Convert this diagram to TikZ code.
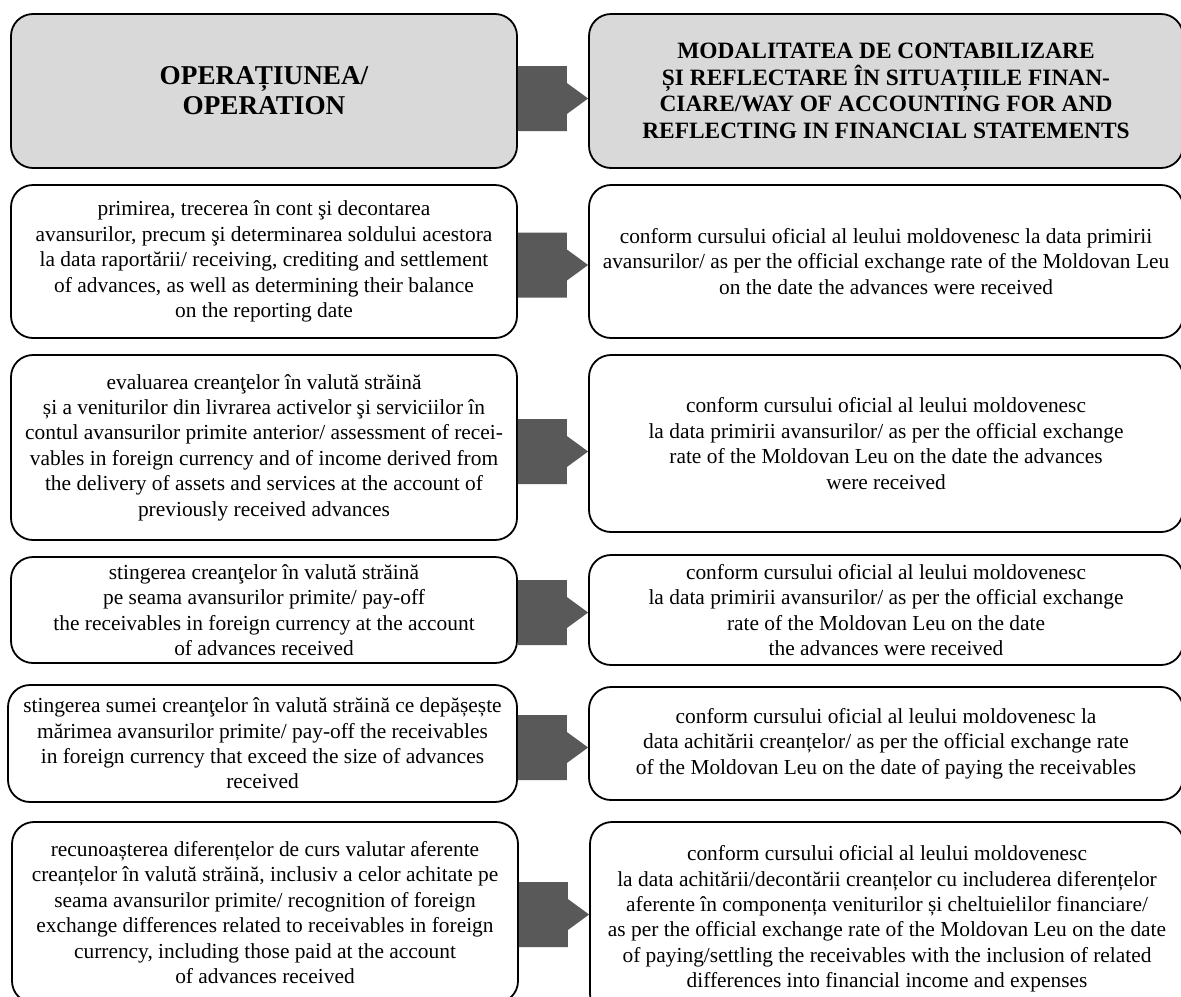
\documentclass[tikz,border=0pt]{standalone}
\usepackage{fontspec}
\setmainfont{Liberation Serif}
\usetikzlibrary{calc}
\definecolor{headgray}{HTML}{D9D9D9}
\definecolor{arrowgray}{HTML}{595959}
% block arrow from box #1 to box #2, lowered by #3
\newcommand{\blockarrow}[3]{%
  \fill[arr] ([yshift=#3+16.25pt]#1.east) -- ++(24.5pt,0) -- ++(0,-8.5pt)
    -- ([yshift=#3]#1.east -| #2.west)
    -- ([xshift=24.5pt,yshift=#3-7.75pt]#1.east) -- ++(0,-8.5pt)
    -- ([yshift=#3-16.25pt]#1.east) -- cycle;}

\begin{document}
\begin{tikzpicture}[x=0.5pt,y=-0.5pt,
    box/.style={draw,rounded corners=11pt,line width=0.9pt,align=center,inner sep=2pt,
      font=\fontsize{10.7}{12.7}\selectfont},
    headbox/.style={box,fill=headgray,font=\fontsize{11.7}{13.3}\selectfont\bfseries},
    arr/.style={fill=arrowgray}]
  \useasboundingbox (0,0) rectangle (1181,996);

  % header
  \node[headbox,minimum width=253pt,minimum height=77pt,font=\fontsize{13.6}{15}\selectfont\bfseries]
    (op0) at (264,91) {OPERAȚIUNEA/\\OPERATION};
  \node[headbox,minimum width=297pt,minimum height=77pt] (acc0) at (886,91)
    {MODALITATEA DE CONTABILIZARE\\ȘI REFLECTARE ÎN SITUAȚIILE FINAN-\\CIARE/WAY OF ACCOUNTING FOR AND\\REFLECTING IN FINANCIAL STATEMENTS};

  % rows
  \node[box,minimum width=253pt,minimum height=76.5pt] (op1) at (264,261.5)
    {primirea, trecerea în cont şi decontarea\\avansurilor, precum şi determinarea soldului acestora\\la data raportării/ receiving, crediting and settlement\\of advances, as well as determining their balance\\on the reporting date};
  \node[box,minimum width=297pt,minimum height=76.5pt] (acc1) at (886,261.5)
    {conform cursului oficial al leului moldovenesc la data primirii\\avansurilor/ as per the official exchange rate of the Moldovan Leu\\on the date the advances were received};

  \node[box,minimum width=253pt,minimum height=92.5pt] (op2) at (264,447.5)
    {evaluarea creanţelor în valută străină\\și a veniturilor din livrarea activelor şi serviciilor în\\contul avansurilor primite anterior/ assessment of recei-\\vables in foreign currency and of income derived from\\the delivery of assets and services at the account of\\previously received advances};
  \node[box,minimum width=297pt,minimum height=88.5pt] (acc2) at (886,443.5)
    {conform cursului oficial al leului moldovenesc\\la data primirii avansurilor/ as per the official exchange\\rate of the Moldovan Leu on the date the advances\\were received};

  \node[box,minimum width=253pt,minimum height=53pt] (op3) at (264,610)
    {stingerea creanţelor în valută străină\\pe seama avansurilor primite/ pay-off\\the receivables in foreign currency at the account\\of advances received};
  \node[box,minimum width=297pt,minimum height=55pt] (acc3) at (886,610)
    {conform cursului oficial al leului moldovenesc\\la data primirii avansurilor/ as per the official exchange\\rate of the Moldovan Leu on the date\\the advances were received};

  \node[box,minimum width=254.5pt,minimum height=58.5pt] (op4) at (262.5,743.5)
    {stingerea sumei creanţelor în valută străină ce depășește\\mărimea avansurilor primite/ pay-off the receivables\\in foreign currency that exceed the size of advances\\received};
  \node[box,minimum width=297pt,minimum height=56.5pt] (acc4) at (886,743.5)
    {conform cursului oficial al leului moldovenesc la\\data achitării creanțelor/ as per the official exchange rate\\of the Moldovan Leu on the date of paying the receivables};

  \node[box,minimum width=253pt,minimum height=90.5pt] (op5) at (265,912.5)
    {recunoașterea diferențelor de curs valutar aferente\\creanțelor în valută străină, inclusiv a celor achitate pe\\seama avansurilor primite/ recognition of foreign\\exchange differences related to receivables in foreign\\currency, including those paid at the account\\of advances received};
  \node[box,minimum width=297pt,minimum height=97pt] (acc5) at (887,919)
    {conform cursului oficial al leului moldovenesc\\la data achitării/decontării creanțelor cu includerea diferențelor\\aferente în componența veniturilor și cheltuielilor financiare/\\as per the official exchange rate of the Moldovan Leu on the date\\of paying/settling the receivables with the inclusion of related\\differences into financial income and expenses};

  % arrows
  \blockarrow{op0}{acc0}{-3.75pt}
  \blockarrow{op1}{acc1}{-1.75pt}
  \blockarrow{op2}{acc2}{-2pt}
  \blockarrow{op3}{acc3}{-1.25pt}
  \blockarrow{op4}{acc4}{-2pt}
  \blockarrow{op5}{acc5}{-1pt}
\end{tikzpicture}
\end{document}
